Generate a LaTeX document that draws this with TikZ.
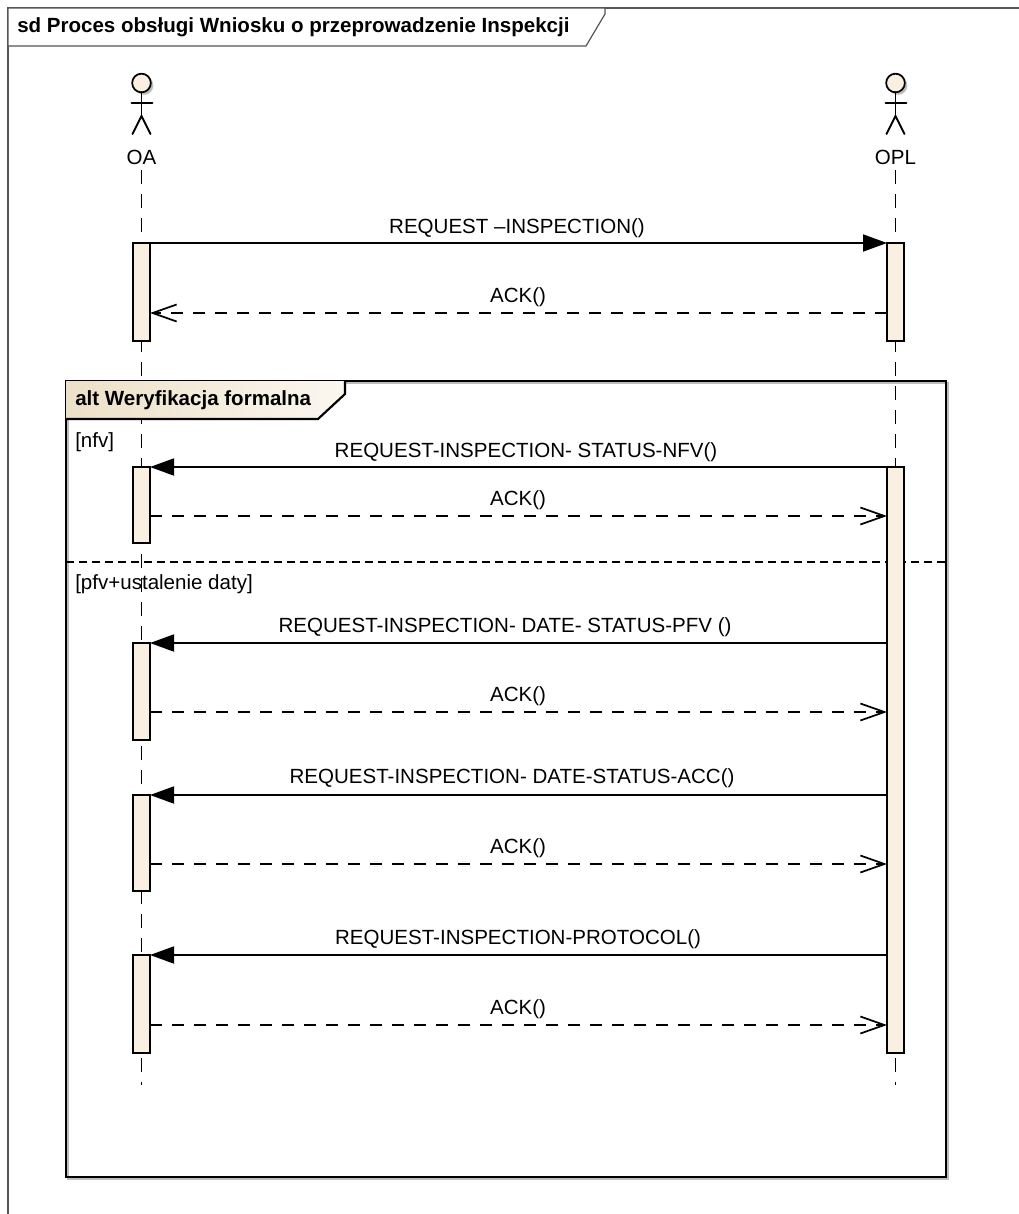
\documentclass[tikz,border=0pt]{standalone}
\usepackage{fontspec}
\setmainfont{Liberation Sans}
\usetikzlibrary{arrows.meta}
\definecolor{actfill}{HTML}{FAF0E1}
\definecolor{tabL}{HTML}{EDE0C8}
\definecolor{tabR}{HTML}{FBF7F0}
\definecolor{shadowgrey}{HTML}{BDBDBD}
\definecolor{framegrey}{HTML}{555555}
\begin{document}
\begin{tikzpicture}[x=0.75pt,y=-0.75pt,
  txt/.style={font=\fontsize{15.4}{18}\selectfont, inner sep=0pt},
  btxt/.style={font=\fontsize{15.4}{18}\selectfont\bfseries, inner sep=0pt},
  lifeline/.style={line width=1.4pt, dash pattern=on 10.5pt off 7.5pt},
  act/.style={draw=black, line width=1.4pt, fill=actfill},
  call/.style={line width=1.4pt, -{Triangle[length=18pt,width=12.75pt]}},
  reply/.style={line width=1.4pt, dash pattern=on 9pt off 7.5pt, -{Straight Barb[length=18pt,width=12.75pt,line width=1.3pt]}},
  figure/.style={line width=1.4pt, line cap=round},
]
\useasboundingbox (0,0) rectangle (1019,1214);
\fill[white] (0,0) rectangle (1019,1214);

% outer frame
\draw[framegrey, line width=0.9pt] (8,1214) -- (8,8) -- (1019,8);
\draw[framegrey, line width=0.9pt, fill=white] (8,8) -- (605,8) -- (605,14) -- (586,46) -- (8,46) -- cycle;
\node[btxt, anchor=west] (title) at (17,27) {sd Proces obsługi Wniosku o przeprowadzenie Inspekcji};

% actors
\foreach \ax/\nm in {141.5/OA, 895.5/OPL}{
  \fill[shadowgrey] (\ax+2.5,85.5) circle[radius=7pt];
  \draw[line width=1.3pt, fill=actfill] (\ax,83) circle[radius=7pt];
  \draw[figure] (\ax,92) -- (\ax,116);
  \draw[figure] (\ax-10,103) -- (\ax+11,103);
  \draw[figure] (\ax-9,134) -- (\ax,116) -- (\ax+9,134);
}
\node[txt] (oa) at (141.5,157) {OA};
\node[txt] (opl) at (895.5,157) {OPL};

% lifelines
\coordinate (oaTop) at (141.5,170);
\coordinate (oaBot) at (141.5,1085);
\coordinate (oplTop) at (895.5,170);
\coordinate (oplBot) at (895.5,1085);
\draw[lifeline] (oaTop) -- (oaBot);
\draw[lifeline] (oplTop) -- (oplBot);

% alt frame
\draw[shadowgrey, line width=1.2pt] (68,383) rectangle (948,1179);
\draw[black, line width=1.6pt] (66,381) rectangle (946,1177);
\shade[left color=tabL, right color=tabR] (66,381) -- (345,381) -- (345,394) -- (318,419) -- (66,419) -- cycle;
\draw[black, line width=1.6pt] (345,381) -- (345,394) -- (318,419) -- (66,419);
\node[btxt, anchor=west] (altlbl) at (75,400) {alt Weryfikacja formalna};
\node[txt, anchor=west] (g1) at (75,442) {[nfv]};
\draw[black, line width=1.2pt, dash pattern=on 6pt off 3.75pt] (66,562) -- (946,562);
\node[txt, anchor=west] (g2) at (75,584) {[pfv+ustalenie daty]};

% activations
\draw[act] (133,243) rectangle (150,341);
\draw[act] (887,243) rectangle (904,341);
\draw[act] (887,467) rectangle (904,1053);
\draw[act] (133,467) rectangle (150,543);
\draw[act] (133,643) rectangle (150,740);
\draw[act] (133,795) rectangle (150,891);
\draw[act] (133,955) rectangle (150,1053);

% message endpoints
\foreach \i/\yy in {1/243,2/313,3/467,4/516,5/643,6/712,7/795,8/864,9/955,10/1025}{
  \coordinate (L\i) at (150,\yy);
  \coordinate (R\i) at (887,\yy);
}

\draw[call] (L1) -- (R1);
\node[txt] (t1) at (517,228) {REQUEST –INSPECTION()};
\draw[reply] (R2) -- (L2);
\node[txt] (t2) at (518,297) {ACK()};

\draw[call] (R3) -- (L3);
\node[txt] (t3) at (526,452) {REQUEST-INSPECTION- STATUS-NFV()};
\draw[reply] (L4) -- (R4);
\node[txt] (t4) at (518,500) {ACK()};

\draw[call] (R5) -- (L5);
\node[txt] (t5) at (505,627) {REQUEST-INSPECTION- DATE- STATUS-PFV ()};
\draw[reply] (L6) -- (R6);
\node[txt] (t6) at (518,696) {ACK()};

\draw[call] (R7) -- (L7);
\node[txt] (t7) at (512,778) {REQUEST-INSPECTION- DATE-STATUS-ACC()};
\draw[reply] (L8) -- (R8);
\node[txt] (t8) at (518,848) {ACK()};

\draw[call] (R9) -- (L9);
\node[txt] (t9) at (518,939) {REQUEST-INSPECTION-PROTOCOL()};
\draw[reply] (L10) -- (R10);
\node[txt] (t10) at (518,1009) {ACK()};
\end{tikzpicture}
\end{document}
